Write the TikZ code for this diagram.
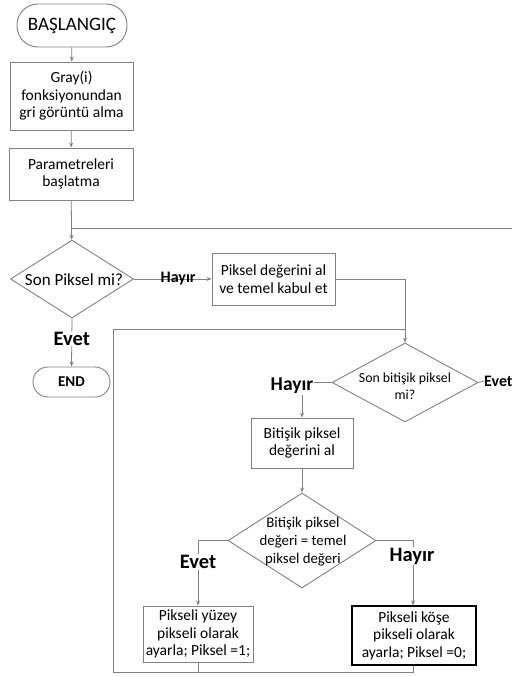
\documentclass[tikz,border=0pt]{standalone}
\usepackage{fontspec}
\setmainfont{Carlito}
\usetikzlibrary{shapes.geometric,arrows.meta}
\definecolor{linegray}{HTML}{808080}
\tikzset{
  flow/.style={draw=linegray, line width=0.8pt},
  arr/.style={flow, -{Stealth[length=5pt,width=4pt]}},
  procbox/.style={draw=linegray, line width=0.9pt, rectangle, inner sep=0pt, align=center,
                  font=\fontsize{15.5}{17.5}\selectfont},
  termbox/.style={draw=linegray, line width=0.9pt, rectangle, rounded corners=15pt, inner sep=0pt, align=center},
  decision/.style={draw=linegray, line width=0.9pt, diamond, inner sep=0pt},
  dtext/.style={align=center, inner sep=0pt},
  biglabel/.style={font=\fontsize{20.5}{23}\selectfont\bfseries, fill=white, inner sep=1pt},
}
\begin{document}
\begin{tikzpicture}[x=1pt, y=-1pt]
\useasboundingbox (0,0) rectangle (512,677);

% terminals and process boxes
\node[termbox, rounded corners=21pt, minimum width=110pt, minimum height=43pt,
      font=\fontsize{19}{22}\selectfont] (start) at (72,25.5) {BAŞLANGIÇ};
\node[procbox, minimum width=123pt, minimum height=68pt] (gray) at (71.5,96)
  {Gray(i)\\fonksiyonundan\\gri görüntü alma};
\node[procbox, minimum width=124pt, minimum height=52pt] (param) at (71,174)
  {Parametreleri\\başlatma};

\node[decision, minimum width=123pt, minimum height=78pt] (d1) at (72,279) {};
\node[dtext, font=\fontsize{17}{20}\selectfont] at (74,280) {Son Piksel mi?};

\node[procbox, minimum width=123pt, minimum height=52pt] (pix) at (273.5,279)
  {Piksel değerini al\\ve temel kabul et};

\node[termbox, minimum width=77pt, minimum height=30pt,
      font=\fontsize{15}{18}\selectfont\bfseries] (stop) at (71.5,382) {END};

\node[decision, minimum width=146pt, minimum height=79pt] (d2) at (405,382.5) {};
\node[dtext, font=\fontsize{13.8}{17}\selectfont] at (405,386) {Son bitişik piksel\\mi?};

\node[procbox, minimum width=102pt, minimum height=50pt] (nb) at (302,443)
  {Bitişik piksel\\değerini al};

\node[decision, minimum width=148pt, minimum height=95pt] (d3) at (302,540.5) {};
\node[dtext, font=\fontsize{14.8}{18}\selectfont] at (303,542) {Bitişik piksel\\değeri = temel\\piksel değeri};

\node[procbox, minimum width=110pt, minimum height=56pt] (surf) at (198,634)
  {Pikseli yüzey\\pikseli olarak\\ayarla; Piksel =1;};
\node[procbox, draw=black, line width=1.3pt, minimum width=124pt, minimum height=59pt] (corner) at (414,635.5)
  {Pikseli köşe\\pikseli olarak\\ayarla; Piksel =0;};

% loop coordinates
\coordinate (topR) at (512,228);
\coordinate (loopBL) at (113,672);
\coordinate (loopTL) at (113,329);

% main column
\draw[arr] (start) -- (gray);
\draw[arr] (gray) -- (param);
\draw[arr] (param) -- (d1);
\draw[flow] (topR) -- (param.south |- topR);

\draw[arr] (d1.east) -- node[font=\fontsize{16}{18}\selectfont\bfseries, inner sep=0pt, pos=0.57] {Hayır} (pix.west);
\draw[arr] (d1.south) -- node[biglabel, pos=0.42] {Evet} (stop.north);

\draw[arr] (pix.east) -| (d2.north);

% adjacent pixel check
\node[font=\fontsize{16}{18}\selectfont\bfseries, anchor=west, inner sep=0pt] (evetR) at (484,381) {Evet};
\draw[flow] (d2.east) -- (evetR.west);
\draw[arr] (d2.west) -| (nb.north);
\node[font=\fontsize{19.5}{22}\selectfont\bfseries, fill=white, inner sep=1pt] at (292,386) {Hayır};

\draw[arr] (nb) -- (d3);

\draw[arr] (d3.west) -| (surf.north);
\node[biglabel] at (198,562) {Evet};
\draw[arr] (d3.east) -| (corner.north -| 413,0);
\node[biglabel] at (412,556) {Hayır};

% return path
\draw[flow] (surf.south) -- (surf.south |- loopBL);
\draw[flow] (corner.south -| 413,0) -- (413,672) -- (loopBL) -- (loopTL) -- (loopTL -| d2.north);
\end{tikzpicture}
\end{document}
